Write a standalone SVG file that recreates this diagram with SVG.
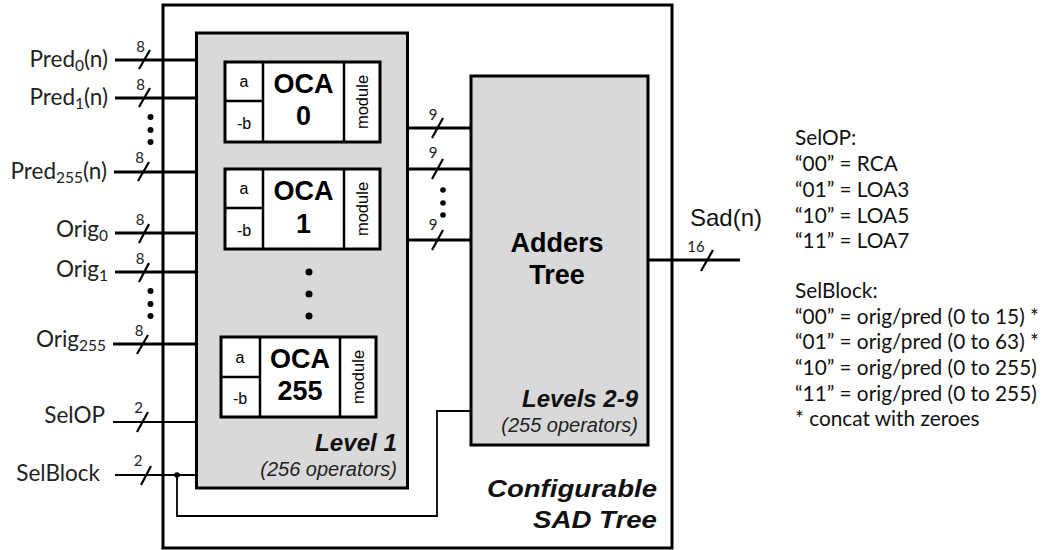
<svg xmlns="http://www.w3.org/2000/svg" width="1047" height="550" viewBox="0 0 1047 550">
<style>
.box{stroke:#000;stroke-width:3;}
.grey{fill:#d9d9d9;}
.white{fill:#fff;}
.div{stroke:#000;stroke-width:2.5;fill:none;}
.bus{stroke:#000;stroke-width:3;fill:none;}
.thin{stroke:#000;stroke-width:1.8;fill:none;}
.sl{stroke:#000;stroke-width:2.2;}
.lbl{font-family:Lato,"Liberation Sans",sans-serif;font-size:22.5px;fill:#222;}
.bw{font-family:Lato,"Liberation Sans",sans-serif;font-size:15px;fill:#222;}
.leg{font-family:Lato,"Liberation Sans",sans-serif;font-size:20.8px;fill:#111;}
.ar{font-family:"Liberation Sans",Arial,sans-serif;fill:#111;}
.oca{font-family:"Liberation Sans",Arial,sans-serif;font-weight:bold;font-size:27px;text-anchor:middle;}
.sm{font-family:"Liberation Sans",Arial,sans-serif;font-size:16px;text-anchor:middle;}
.mod{font-family:"Liberation Sans",Arial,sans-serif;font-size:16.5px;text-anchor:middle;}
.bi{font-family:"Liberation Sans",Arial,sans-serif;font-weight:bold;font-style:italic;text-anchor:end;fill:#111;}
.it{font-family:"Liberation Sans",Arial,sans-serif;font-style:italic;font-size:20px;text-anchor:end;fill:#222;}
</style>
<rect width="1047" height="550" fill="#fff"/>

<g id="sad-tree">
<rect class="box white" x="163" y="5" width="509" height="543"/>
<text class="bi" x="657" y="497" font-size="24" textLength="170" lengthAdjust="spacingAndGlyphs">Configurable</text>
<text class="bi" x="657" y="528" font-size="24" textLength="124" lengthAdjust="spacingAndGlyphs">SAD Tree</text>
</g>

<g id="connectors">
<line class="bus" x1="115" y1="60" x2="197" y2="60"/>
<line class="bus" x1="115" y1="98" x2="197" y2="98"/>
<line class="bus" x1="114" y1="172" x2="197" y2="172"/>
<line class="bus" x1="115" y1="233" x2="197" y2="233"/>
<line class="bus" x1="115" y1="272" x2="197" y2="272"/>
<line class="bus" x1="113" y1="344" x2="197" y2="344"/>
<line class="thin" x1="113" y1="422" x2="197" y2="422"/>
<line class="thin" x1="115" y1="475" x2="197" y2="475"/>
<polyline class="thin" points="177,475 177,516 437,516 437,411 471,411"/>
<circle cx="177" cy="475" r="2.8" fill="#000"/>
<line class="sl" x1="150" y1="50" x2="139" y2="69"/>
<line class="sl" x1="150" y1="88" x2="139" y2="107"/>
<line class="sl" x1="149" y1="162" x2="138" y2="181"/>
<line class="sl" x1="149" y1="224" x2="139" y2="243"/>
<line class="sl" x1="149" y1="263" x2="139" y2="282"/>
<line class="sl" x1="148" y1="335" x2="137" y2="354"/>
<line class="sl" x1="148" y1="412" x2="137" y2="432"/>
<line class="sl" x1="151" y1="466" x2="141" y2="485"/>
<text class="bw" x="140.5" y="52" text-anchor="middle">8</text>
<text class="bw" x="140.5" y="90" text-anchor="middle">8</text>
<text class="bw" x="139.5" y="163" text-anchor="middle">8</text>
<text class="bw" x="140" y="225" text-anchor="middle">8</text>
<text class="bw" x="140" y="264" text-anchor="middle">8</text>
<text class="bw" x="139" y="336" text-anchor="middle">8</text>
<text class="bw" x="138.5" y="413" text-anchor="middle">2</text>
<text class="bw" x="138" y="466" text-anchor="middle">2</text>
<circle cx="150.5" cy="117" r="3" fill="#000"/>
<circle cx="150.5" cy="130" r="3" fill="#000"/>
<circle cx="150.5" cy="142" r="3" fill="#000"/>
<circle cx="150.5" cy="291" r="3" fill="#000"/>
<circle cx="150.5" cy="304" r="3" fill="#000"/>
<circle cx="150.5" cy="316" r="3" fill="#000"/>
<line class="bus" x1="408" y1="128" x2="472" y2="128"/>
<line class="bus" x1="408" y1="169" x2="472" y2="169"/>
<line class="bus" x1="408" y1="240" x2="472" y2="240"/>
<line class="sl" x1="443" y1="118" x2="432" y2="138"/>
<line class="sl" x1="443" y1="159" x2="432" y2="179"/>
<line class="sl" x1="443" y1="230" x2="432" y2="250"/>
<text class="bw" x="433" y="120" text-anchor="middle">9</text>
<text class="bw" x="433" y="158" text-anchor="middle">9</text>
<text class="bw" x="433" y="230" text-anchor="middle">9</text>
<circle cx="443" cy="190" r="2.8" fill="#000"/>
<circle cx="443" cy="203" r="2.8" fill="#000"/>
<circle cx="443" cy="215" r="2.8" fill="#000"/>
<line class="bus" x1="648" y1="260" x2="740" y2="260"/>
<line class="sl" x1="713" y1="250" x2="701" y2="271"/>
<text class="bw" x="696" y="252" text-anchor="middle" font-size="14">16</text>
</g>

<g id="inputs">
<text class="lbl" x="108" y="67" text-anchor="end">Pred<tspan font-size="15.5" dy="4">0</tspan><tspan dy="-4">(n)</tspan></text>
<text class="lbl" x="108" y="105" text-anchor="end">Pred<tspan font-size="15.5" dy="4">1</tspan><tspan dy="-4">(n)</tspan></text>
<text class="lbl" x="107" y="179" text-anchor="end">Pred<tspan font-size="15.5" dy="4">255</tspan><tspan dy="-4">(n)</tspan></text>
<text class="lbl" x="108" y="237" text-anchor="end">Orig<tspan font-size="15.5" dy="4">0</tspan></text>
<text class="lbl" x="108" y="277" text-anchor="end">Orig<tspan font-size="15.5" dy="4">1</tspan></text>
<text class="lbl" x="106" y="347" text-anchor="end">Orig<tspan font-size="15.5" dy="4">255</tspan></text>
<text class="lbl" x="105" y="423" text-anchor="end">SelOP</text>
<text class="lbl" x="100" y="481" text-anchor="end">SelBlock</text>
</g>

<g id="level1">
<rect class="box grey" x="196.5" y="33" width="211" height="455"/>
<circle cx="309" cy="272" r="3.5" fill="#000"/>
<circle cx="309" cy="294" r="3.5" fill="#000"/>
<circle cx="309" cy="316" r="3.5" fill="#000"/>
<text class="bi" x="397" y="451" font-size="23" textLength="82" lengthAdjust="spacingAndGlyphs">Level 1</text>
<text class="it" x="397" y="476">(256 operators)</text>
</g>

<g id="oca0">
<rect class="box white" x="225" y="62" width="155" height="80"/>
<path class="div" d="M263,62V142M344,62V142M225,101H263"/>
<text class="sm" x="244" y="87">a</text>
<text class="sm" x="244" y="129">-b</text>
<text class="oca" x="303.5" y="93">OCA</text>
<text class="oca" x="303.5" y="125">0</text>
<text class="mod" transform="translate(368,102) rotate(-90)">module</text>
</g>

<g id="oca1">
<rect class="box white" x="225" y="169" width="155" height="80"/>
<path class="div" d="M263,169V249M344,169V249M225,208H263"/>
<text class="sm" x="244" y="194">a</text>
<text class="sm" x="244" y="236">-b</text>
<text class="oca" x="303.5" y="200">OCA</text>
<text class="oca" x="303.5" y="233">1</text>
<text class="mod" transform="translate(368,209) rotate(-90)">module</text>
</g>

<g id="oca255">
<rect class="box white" x="221" y="337" width="155" height="80"/>
<path class="div" d="M260,337V417M340,337V417M221,377H260"/>
<text class="sm" x="240" y="363">a</text>
<text class="sm" x="240" y="404">-b</text>
<text class="oca" x="300" y="368">OCA</text>
<text class="oca" x="300" y="400">255</text>
<text class="mod" transform="translate(364,377) rotate(-90)">module</text>
</g>

<g id="adders">
<rect class="box grey" x="471" y="76" width="177" height="369"/>
<text class="oca" x="557" y="252">Adders</text>
<text class="oca" x="557" y="284">Tree</text>
<text class="bi" x="638" y="407" font-size="23" textLength="116" lengthAdjust="spacingAndGlyphs">Levels 2-9</text>
<text class="it" x="638" y="432">(255 operators)</text>
</g>

<g id="output">
<text class="ar" x="690" y="226" font-size="24">Sad(n)</text>
</g>

<g id="legend">
<text class="leg" x="795" y="145">SelOP:</text>
<text class="leg" x="795" y="171">“00” = RCA</text>
<text class="leg" x="795" y="197">“01” = LOA3</text>
<text class="leg" x="795" y="223">“10” = LOA5</text>
<text class="leg" x="795" y="248">“11” = LOA7</text>
<text class="leg" x="795" y="298">SelBlock:</text>
<text class="leg" x="795" y="324">“00” = orig/pred (0 to 15) *</text>
<text class="leg" x="795" y="349">“01” = orig/pred (0 to 63) *</text>
<text class="leg" x="795" y="375">“10” = orig/pred (0 to 255)</text>
<text class="leg" x="795" y="401">“11” = orig/pred (0 to 255)</text>
<text class="leg" x="795" y="426">* concat with zeroes</text>
</g>
</svg>
